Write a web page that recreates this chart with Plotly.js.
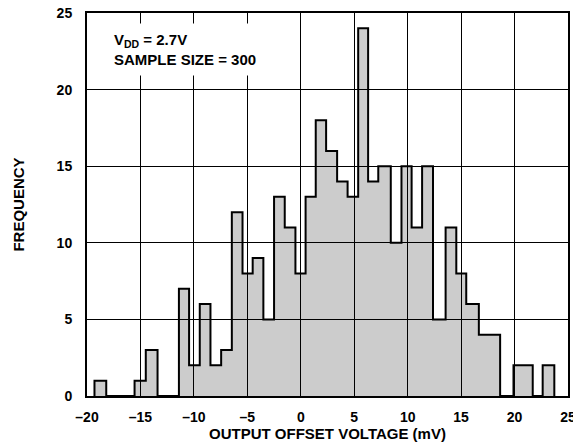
<!DOCTYPE html>
<html>
<head>
<meta charset="utf-8">
<script src="https://cdn.plot.ly/plotly-3.0.1.min.js"></script>
<style>
  html, body { margin: 0; padding: 0; background: #ffffff; }
  #chart { width: 573px; height: 446px; }
</style>
</head>
<body>
<div id="chart"></div>
<script>
// Histogram bins: left edge of each bin (mV), and its count
var binLeft = [-19.3, -18.2, -15.55, -14.5, -13.4, -11.4, -10.45, -9.45, -8.45, -7.45,
               -6.45, -5.45, -4.5, -3.5, -2.5, -1.5, -0.5, 0.45, 1.4, 2.37,
               3.4, 4.38, 5.37, 6.3, 7.25, 8.42, 9.42, 10.37, 11.35, 12.37,
               13.55, 14.55, 15.48, 16.66, 18.65, 19.9, 21.7, 22.63];
var lastRightEdge = 23.72;
var counts = [1, 0, 1, 3, 0, 7, 2, 6, 2, 3,
              12, 8, 9, 5, 13, 11, 8, 13, 18, 16,
              14, 13, 24, 14, 15, 10, 15, 11, 15, 5,
              11, 8, 6, 4, 0, 2, 0, 2];

var xTickVals = [-20, -15, -10, -5, 0, 5, 10, 15, 20, 25];
var xTickText = ['–20', '–15', '–10', '–5', '0', '5', '10', '15', '20', '25'];
var yTickVals = [0, 5, 10, 15, 20, 25];
var yTickText = ['0', '5', '10', '15', '20', '25'];

// Build step outline from the bins
var xs = [binLeft[0]], ys = [0];
for (var i = 0; i < binLeft.length; i++) {
  var L = binLeft[i];
  var R = (i + 1 < binLeft.length) ? binLeft[i + 1] : lastRightEdge;
  xs.push(L, R);
  ys.push(counts[i], counts[i]);
}
xs.push(lastRightEdge);
ys.push(0);

var FONT = '"Liberation Sans", Arial, Helvetica, sans-serif';

var trace = {
  type: 'scatter',
  mode: 'lines',
  x: xs,
  y: ys,
  fill: 'tozeroy',
  fillcolor: 'rgba(0,0,0,0.2)',
  line: { color: '#000000', width: 2, shape: 'linear' },
  hoverinfo: 'skip',
  showlegend: false
};

var layout = {
  width: 573,
  height: 446,
  margin: { l: 87, r: 5, t: 13, b: 50, pad: 0 },
  paper_bgcolor: '#ffffff',
  plot_bgcolor: '#ffffff',
  font: { family: FONT, size: 14, color: '#000000', weight: 'bold' },
  showlegend: false,
  xaxis: {
    range: [-20, 25],
    tickmode: 'array',
    tickvals: xTickVals,
    ticktext: xTickText,
    showgrid: true,
    gridcolor: '#000000',
    gridwidth: 1,
    zeroline: false,
    showline: true,
    linecolor: '#000000',
    linewidth: 2,
    mirror: true,
    ticks: '',
    ticklabelstandoff: 7,
    ticklabeloverflow: 'allow',
    tickfont: { family: FONT, size: 14, color: '#000000', weight: 'bold' },
    title: {
      text: 'OUTPUT OFFSET VOLTAGE (mV)',
      font: { family: FONT, size: 15, color: '#000000', weight: 'bold' },
      standoff: 5
    },
    fixedrange: true
  },
  yaxis: {
    range: [0, 25],
    tickmode: 'array',
    tickvals: yTickVals,
    ticktext: yTickText,
    showgrid: true,
    gridcolor: '#000000',
    gridwidth: 1,
    zeroline: false,
    showline: true,
    linecolor: '#000000',
    linewidth: 2,
    mirror: true,
    ticks: '',
    ticklabelstandoff: 10,
    ticklabeloverflow: 'allow',
    tickfont: { family: FONT, size: 14, color: '#000000', weight: 'bold' },
    title: {
      text: 'FREQUENCY',
      font: { family: FONT, size: 15, color: '#000000', weight: 'bold' },
      standoff: 28
    },
    fixedrange: true
  },
  annotations: [{
    xref: 'paper', yref: 'paper',
    x: 0.04, y: 0.974,
    xanchor: 'left', yanchor: 'top',
    align: 'left',
    showarrow: false,
    bgcolor: '#ffffff',
    borderpad: 7,
    text: 'V<sub>DD</sub> = 2.7V<br>SAMPLE SIZE = 300',
    font: { family: FONT, size: 15, color: '#000000', weight: 'bold' }
  }]
};

Plotly.newPlot('chart', [trace], layout, { displayModeBar: false, staticPlot: true });
</script>
</body>
</html>
